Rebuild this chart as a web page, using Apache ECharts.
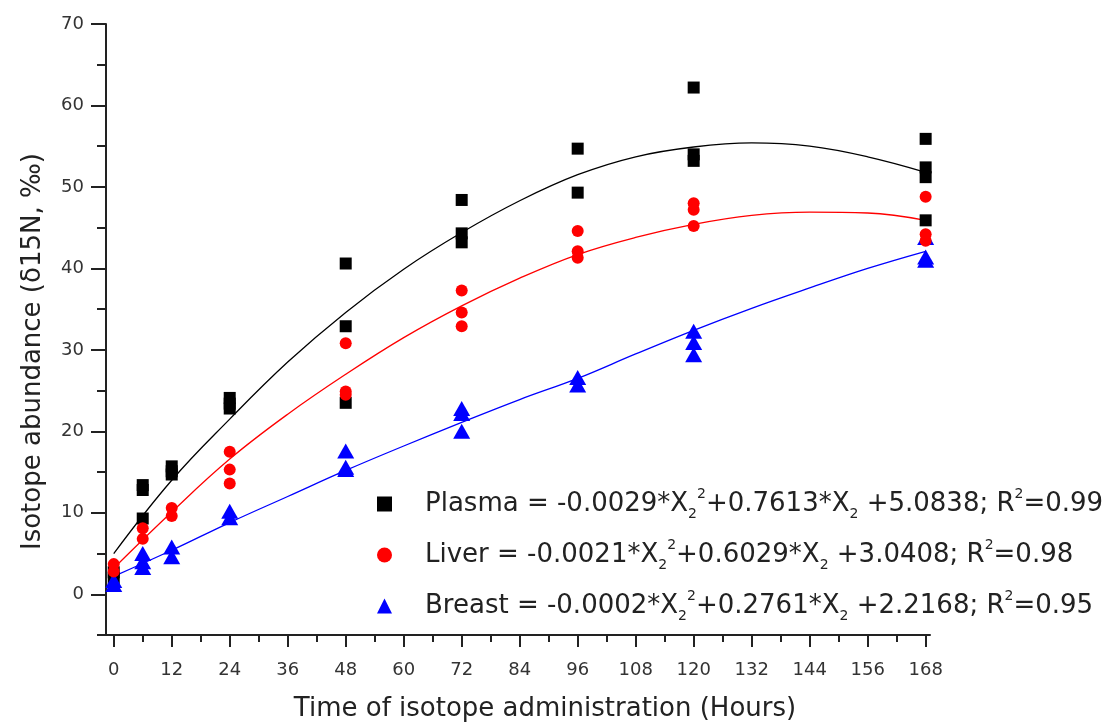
<!DOCTYPE html>
<html>
<head>
<meta charset="utf-8">
<script src="https://cdn.jsdelivr.net/npm/echarts@6/dist/echarts.min.js"></script>
<style>html,body{margin:0;padding:0;background:#fff}#c{width:1106px;height:727px}</style>
</head>
<body>
<div id="c"></div>
<script>
// ---- data ----
const xMajorTicks = [0,12,24,36,48,60,72,84,96,108,120,132,144,156,168];
const xMinorTicks = [6,18,30,42,54,66,78,90,102,114,126,138,150,162];
const yMajorTicks = [0,10,20,30,40,50,60,70];
const yMinorTicks = [-5,5,15,25,35,45,55,65];

const plasmaPoints = [[0,2.0],[0,2.7],[6,13.4],[6,12.8],[6,9.3],[12,15.7],[12,15.1],[12,14.7],
  [24,24.1],[24,23.4],[24,22.8],[48,40.6],[48,32.9],[48,23.5],[72,48.4],[72,44.3],[72,43.2],
  [96,54.7],[96,49.3],[120,62.2],[120,54.0],[120,53.2],[168,55.9],[168,52.4],[168,51.2],[168,45.9]];
const liverPoints = [[0,3.7],[0,2.8],[6,8.1],[6,6.8],[12,10.6],[12,9.6],[24,17.5],[24,15.3],[24,13.6],
  [48,30.8],[48,24.9],[48,24.5],[72,37.3],[72,34.6],[72,32.9],[96,44.6],[96,42.1],[96,41.3],
  [120,48.0],[120,47.2],[120,45.2],[168,48.8],[168,44.2],[168,43.4]];
const breastPoints = [[0,1.2],[0,1.7],[6,5.0],[6,4.0],[6,3.3],[12,5.8],[12,4.6],[24,10.2],[24,9.4],
  [48,17.6],[48,15.6],[48,15.3],[72,22.8],[72,22.2],[72,20.0],[96,26.6],[96,25.7],
  [120,32.3],[120,30.9],[120,29.4],[168,43.8],[168,41.4],[168,41.0]];

const fitHours  = [0,12,24,36,48,60,72,84,96,108,120,132,144,156,168];
const plasmaFit = [5.0,14.0,21.5,28.5,34.6,39.9,44.4,48.3,51.5,53.7,54.9,55.4,55.0,53.7,51.8];
const liverFit  = [3.2,10.1,16.6,22.1,27.0,31.5,35.4,38.8,41.7,43.8,45.4,46.5,46.9,46.8,45.9];
const breastFit = [2.2,5.4,8.8,12.0,15.2,18.2,21.1,23.9,26.5,29.5,32.4,35.1,37.6,40.0,42.1];

const seriesNames = ['Plasma','Liver','Breast'];
const legendTexts = {
  Plasma: '{g|}{t|Plasma = -0.0029*X}{sub|2}{sup|2}{t|+0.7613*X}{sub|2}{t| +5.0838; R}{sup|2}{t|=0.99}',
  Liver:  '{g|}{t|Liver = -0.0021*X}{sub|2}{sup|2}{t|+0.6029*X}{sub|2}{t| +3.0408; R}{sup|2}{t|=0.98}',
  Breast: '{g|}{t|Breast = -0.0002*X}{sub|2}{sup|2}{t|+0.2761*X}{sub|2}{t| +2.2168; R}{sup|2}{t|=0.95}'
};
const xTitle = 'Time of isotope administration (Hours)';
const yTitle = 'Isotope abundance (δ15N, ‰)';

// ---- chart ----
const FONT = '"DejaVu Sans", "Liberation Sans", Arial, sans-serif';
const chart = echarts.init(document.getElementById('c'), null, {renderer:'canvas'});
const pair = (hs, vs) => hs.map((h,i)=>[h, vs[i]]);
const axisCommon = {min:-1.6, max:168.9};
const option = {
  animation: false,
  backgroundColor: '#fff',
  textStyle: {fontFamily: FONT},
  grid: {left:106, right:176, top:24, bottom:89, containLabel:false},
  xAxis: [
    Object.assign({type:'value', position:'bottom',
      name: xTitle, nameLocation:'middle', nameGap:61,
      nameTextStyle:{fontSize:26, color:'#222', fontFamily:FONT, padding:[0,0,0,54]},
      axisLine:{show:true, onZero:false, lineStyle:{color:'#222', width:2}},
      axisTick:{show:true, length:12, customValues:xMajorTicks, lineStyle:{color:'#222', width:2}},
      axisLabel:{show:true, customValues:xMajorTicks, margin:26, fontSize:18, color:'#333', fontFamily:FONT},
      splitLine:{show:false}}, axisCommon),
    Object.assign({type:'value', position:'bottom',
      axisLine:{show:false, onZero:false},
      axisTick:{show:true, length:7, customValues:xMinorTicks, lineStyle:{color:'#222', width:2}},
      axisLabel:{show:false}, splitLine:{show:false}}, axisCommon)
  ],
  yAxis: [
    {type:'value', min:-5, max:70, position:'left',
      name: yTitle, nameLocation:'middle', nameGap:60, nameRotate:90,
      nameTextStyle:{fontSize:26, color:'#222', fontFamily:FONT, padding:[0,44,0,0]},
      axisLine:{show:true, onZero:false, lineStyle:{color:'#222', width:2}},
      axisTick:{show:true, length:15, customValues:yMajorTicks, lineStyle:{color:'#222', width:2}},
      axisLabel:{show:true, customValues:yMajorTicks, margin:22, fontSize:18, color:'#333', fontFamily:FONT},
      splitLine:{show:false}},
    {type:'value', min:-5, max:70, position:'left',
      axisLine:{show:false, onZero:false},
      axisTick:{show:true, length:9, customValues:yMinorTicks, lineStyle:{color:'#222', width:2}},
      axisLabel:{show:false}, splitLine:{show:false}}
  ],
  legend: {
    data: seriesNames,
    orient:'vertical', left:372, top:482, itemGap:17,
    itemWidth:15, itemHeight:15,
    formatter: n => legendTexts[n],
    textStyle: {
      color:'#222', fontFamily:FONT,
      rich: {
        g:{width:28},
        t:{fontSize:26, color:'#222', fontFamily:FONT, lineHeight:34},
        sub:{fontSize:14, color:'#222', fontFamily:FONT, verticalAlign:'bottom', lineHeight:14},
        sup:{fontSize:14, color:'#222', fontFamily:FONT, verticalAlign:'top', lineHeight:14}
      }
    }
  },
  series: [
    {name:'Plasma fit', type:'line', data:pair(fitHours, plasmaFit), smooth:0.4, showSymbol:false,
      lineStyle:{color:'#000', width:1.3}, z:2, silent:true},
    {name:'Liver fit', type:'line', data:pair(fitHours, liverFit), smooth:0.4, showSymbol:false,
      lineStyle:{color:'#ff0000', width:1.3}, z:2, silent:true},
    {name:'Breast fit', type:'line', data:pair(fitHours, breastFit), smooth:0.4, showSymbol:false,
      lineStyle:{color:'#0000ff', width:1.3}, z:2, silent:true},
    {name:'Plasma', type:'scatter', data:plasmaPoints, symbol:'rect', symbolSize:12,
      itemStyle:{color:'#000', opacity:1}, z:3},
    {name:'Breast', type:'scatter', data:breastPoints, symbol:'triangle', symbolSize:[17,15],
      itemStyle:{color:'#0000ff', opacity:1}, z:4},
    {name:'Liver', type:'scatter', data:liverPoints, symbol:'circle', symbolSize:12,
      itemStyle:{color:'#ff0000', opacity:1}, z:5}
  ]
};
chart.setOption(option);
</script>
</body>
</html>
